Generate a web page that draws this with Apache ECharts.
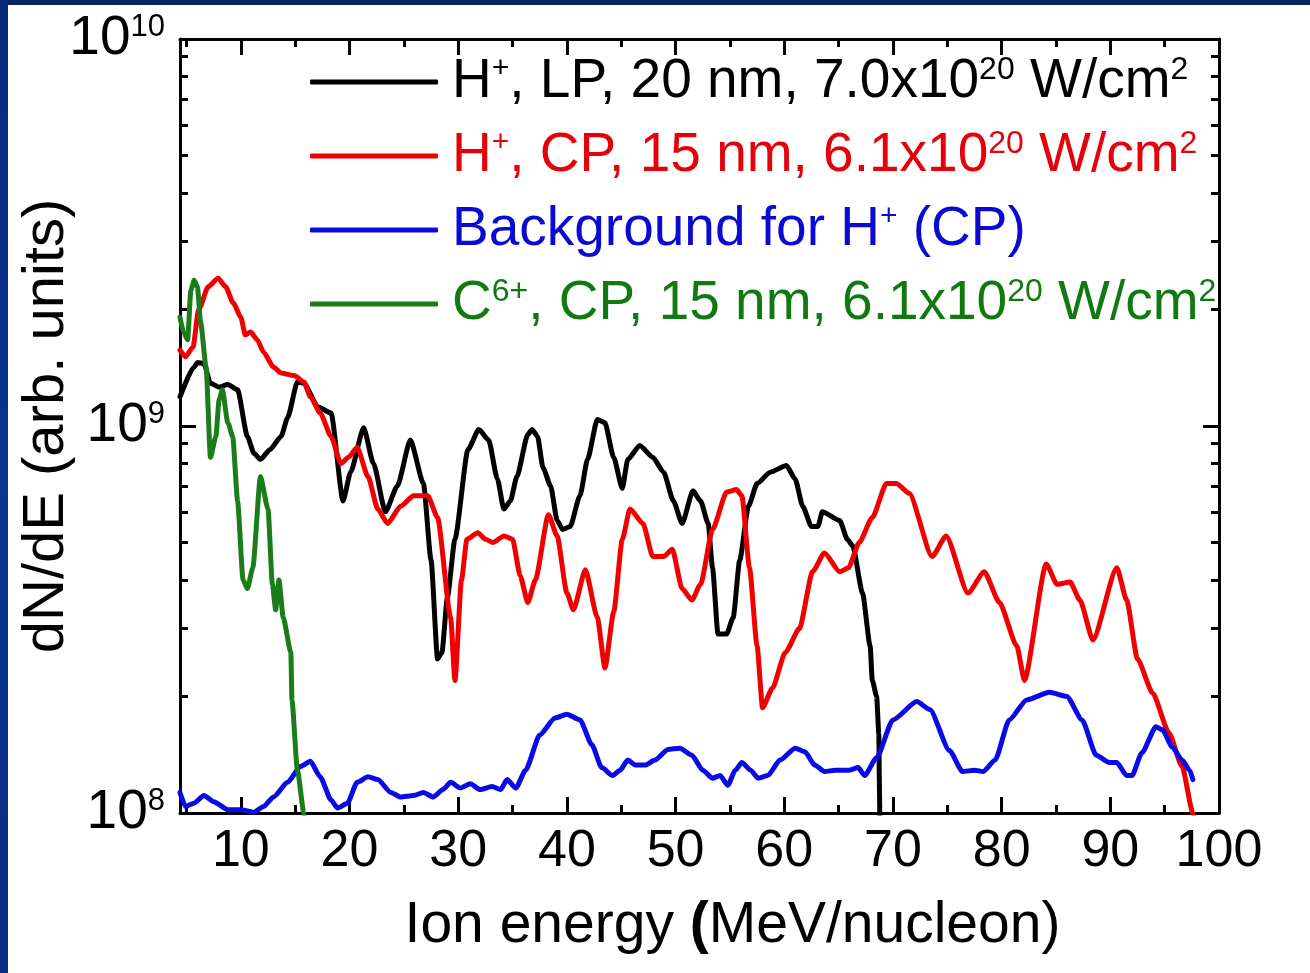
<!DOCTYPE html>
<html>
<head>
<meta charset="utf-8">
<script src="https://cdn.jsdelivr.net/npm/echarts@6/dist/echarts.min.js"></script>
<style>
html,body{margin:0;padding:0;background:#ffffff;}
#frameTop{position:absolute;left:0;top:0;width:1310px;height:5px;background:#032463;}
#frameLeft{position:absolute;left:0;top:0;width:8px;height:973px;background:linear-gradient(#06297a,#0b3592,#082c82);}
#chart{position:absolute;left:0;top:0;width:1310px;height:973px;}
</style>
</head>
<body>
<div id="frameTop"></div>
<div id="frameLeft"></div>
<div id="chart"></div>
<script>
// ---------------- data ----------------
// [energy (MeV/nucleon), dN/dE (arb. units)]
const hLP = [[4.4,1.19e9],[5.7,1.42e9],[6.0,1.46e9],[6.6,1.45e9],[7.2,1.29e9],[8.0,1.26e9],[8.8,1.28e9],[9.7,1.24e9],[10.6,9.4e8],[11.2,8.5e8],[11.8,8.2e8],[12.7,8.7e8],[13.7,9.4e8],[14.3,1.05e9],[15.2,1.30e9],[15.8,1.29e9],[17.1,1.12e9],[18.3,1.08e9],[19.4,6.4e8],[20.1,7.6e8],[21.3,9.9e8],[22.2,8.0e8],[23.3,6.0e8],[24.4,7.0e8],[25.6,9.2e8],[26.8,7.1e8],[27.5,4.5e8],[28.1,2.5e8],[28.5,2.6e8],[29.0,3.6e8],[29.7,5.1e8],[30.9,8.7e8],[31.9,9.8e8],[32.8,9.2e8],[33.6,7.3e8],[34.2,6.1e8],[34.8,6.4e8],[35.4,7.4e8],[36.4,9.5e8],[36.8,9.8e8],[37.3,9.4e8],[37.8,7.8e8],[38.5,7.0e8],[39.1,5.7e8],[39.6,5.4e8],[40.3,5.5e8],[41.2,6.6e8],[41.9,8.2e8],[42.8,1.04e9],[43.5,1.02e9],[44.3,8.3e8],[45.1,6.9e8],[45.6,8.2e8],[46.7,8.9e8],[47.9,8.3e8],[48.9,7.6e8],[49.8,6.4e8],[50.6,5.6e8],[51.6,6.8e8],[52.3,6.4e8],[53.0,5.6e8],[53.4,4.3e8],[53.9,2.9e8],[54.7,2.9e8],[55.3,3.2e8],[55.9,4.5e8],[56.7,6.2e8],[57.5,7.1e8],[58.7,7.6e8],[60.2,7.9e8],[61.0,7.3e8],[61.7,6.2e8],[62.5,5.5e8],[63.1,5.5e8],[63.5,6.0e8],[65.1,5.7e8],[65.8,5.1e8],[66.3,4.9e8],[67.2,3.7e8],[67.9,2.7e8],[68.1,2.2e8],[68.5,2.0e8],[68.7,1.6e8],[68.75,1.2e8],[68.8,9e7]];

const hCP = [[4.4,1.57e9],[4.9,1.51e9],[5.6,1.60e9],[6.1,1.99e9],[7.0,2.29e9],[7.9,2.41e9],[8.6,2.29e9],[9.3,2.08e9],[10.0,1.91e9],[10.4,1.72e9],[10.9,1.75e9],[11.5,1.67e9],[12.1,1.55e9],[13.0,1.42e9],[13.7,1.37e9],[14.9,1.35e9],[15.8,1.30e9],[16.4,1.19e9],[17.3,1.08e9],[18.3,9.4e8],[19.2,8.0e8],[19.9,8.3e8],[20.7,8.8e8],[21.7,7.4e8],[22.6,6.1e8],[23.5,5.6e8],[24.7,6.2e8],[25.9,6.6e8],[27.2,6.6e8],[28.1,5.8e8],[29.3,3.2e8],[29.7,2.2e8],[30.3,4.0e8],[30.8,5.1e8],[31.8,5.3e8],[32.5,5.1e8],[33.2,5.0e8],[34.2,5.2e8],[35.0,5.1e8],[35.7,4.1e8],[36.4,3.5e8],[37.1,4.0e8],[38.3,5.9e8],[39.1,5.2e8],[40.0,3.7e8],[40.6,3.35e8],[41.7,4.25e8],[42.8,3.2e8],[43.5,2.37e8],[44.3,3.3e8],[45.1,5.1e8],[45.8,6.1e8],[47.0,5.6e8],[47.9,4.6e8],[48.9,4.6e8],[49.7,4.8e8],[50.6,3.8e8],[51.5,3.55e8],[52.3,3.9e8],[53.4,5.4e8],[54.7,6.75e8],[55.6,6.85e8],[56.1,6.6e8],[56.8,4.3e8],[57.5,2.7e8],[58.0,1.87e8],[58.9,2.1e8],[60.1,2.6e8],[61.4,3.0e8],[62.6,4.2e8],[63.7,4.7e8],[65.1,4.2e8],[65.9,4.3e8],[66.9,5.0e8],[68.1,5.8e8],[69.4,7.1e8],[70.3,7.1e8],[71.5,6.7e8],[73.6,4.6e8],[74.9,5.2e8],[76.9,3.7e8],[78.4,4.2e8],[79.8,3.5e8],[81.4,2.7e8],[82.1,2.2e8],[84.1,4.4e8],[85.1,3.9e8],[86.3,3.95e8],[87.2,3.55e8],[88.4,2.8e8],[90.6,4.3e8],[91.5,3.55e8],[92.5,2.5e8],[93.9,2.04e8],[95.4,1.61e8],[96.6,1.32e8],[97.6,1.0e8],[97.8,9.5e7]];

const bgCP = [[4.4,1.13e8],[4.9,1.04e8],[5.7,1.06e8],[6.6,1.11e8],[7.5,1.07e8],[8.8,1.02e8],[10.0,1.02e8],[11.2,1.005e8],[12.1,1.04e8],[13.0,1.10e8],[14.3,1.20e8],[15.5,1.32e8],[16.4,1.36e8],[17.3,1.24e8],[18.3,1.08e8],[18.9,1.03e8],[19.8,1.06e8],[20.7,1.20e8],[21.7,1.24e8],[22.6,1.22e8],[23.8,1.13e8],[24.7,1.10e8],[25.9,1.11e8],[26.8,1.13e8],[27.7,1.10e8],[28.6,1.15e8],[29.3,1.20e8],[30.2,1.16e8],[31.1,1.19e8],[32.0,1.15e8],[33.1,1.17e8],[33.9,1.15e8],[34.5,1.22e8],[35.3,1.16e8],[36.2,1.29e8],[37.5,1.59e8],[38.9,1.76e8],[40.0,1.80e8],[41.2,1.74e8],[42.3,1.50e8],[43.2,1.31e8],[44.2,1.25e8],[44.9,1.29e8],[45.6,1.37e8],[46.3,1.33e8],[47.2,1.33e8],[48.1,1.37e8],[49.3,1.46e8],[50.4,1.47e8],[51.5,1.41e8],[52.5,1.29e8],[53.4,1.23e8],[54.1,1.25e8],[54.8,1.18e8],[55.5,1.29e8],[56.1,1.35e8],[56.9,1.29e8],[57.6,1.23e8],[58.5,1.25e8],[59.6,1.37e8],[61.0,1.47e8],[61.9,1.44e8],[62.8,1.33e8],[63.7,1.28e8],[64.7,1.29e8],[65.4,1.29e8],[66.0,1.29e8],[66.8,1.31e8],[67.4,1.25e8],[68.5,1.39e8],[70.0,1.74e8],[72.2,1.94e8],[73.4,1.85e8],[75.2,1.45e8],[76.4,1.28e8],[77.5,1.29e8],[78.3,1.28e8],[79.4,1.37e8],[80.7,1.74e8],[82.3,1.96e8],[84.4,2.05e8],[86.0,2.00e8],[87.4,1.74e8],[88.7,1.41e8],[89.9,1.35e8],[90.6,1.35e8],[91.5,1.25e8],[92.0,1.25e8],[92.9,1.43e8],[94.2,1.67e8],[94.8,1.64e8],[95.7,1.48e8],[96.6,1.37e8],[97.3,1.29e8],[97.6,1.22e8]];

const c6CP = [[4.4,1.91e9],[4.75,1.74e9],[5.1,1.67e9],[5.4,2.24e9],[5.7,2.38e9],[6.0,2.29e9],[6.3,1.85e9],[6.8,1.42e9],[7.2,8.3e8],[7.7,9.4e8],[8.0,1.17e9],[8.3,1.24e9],[8.8,1.02e9],[9.25,9.4e8],[9.7,6.4e8],[10.2,4.0e8],[10.6,3.8e8],[11.1,4.3e8],[11.8,7.4e8],[12.5,6.1e8],[12.9,3.9e8],[13.2,3.35e8],[13.5,4.0e8],[13.9,3.2e8],[14.6,2.6e8],[14.7,1.96e8],[15.2,1.29e8],[15.8,1.0e8],[15.9,9.5e7]];

const seriesNames = ['hLP', 'hCP', 'bgCP', 'c6CP'];
const legendLabels = [
  '{g| }{n|H}{p|+}{n|, LP, 20 nm, 7.0x10}{s|20}{n| W/cm}{s|2}',
  '{g| }{n|H}{p|+}{n|, CP, 15 nm, 6.1x10}{s|20}{n| W/cm}{s|2}',
  '{g| }{n|Background for H}{p|+}{n| (CP)}',
  '{g| }{n|C}{s|6+}{n|, CP, 15 nm, 6.1x10}{s|20}{n| W/cm}{s|2}'
];
const xMajorTicks = [10, 20, 30, 40, 50, 60, 70, 80, 90, 100];
const xMinorTicks = [5, 15, 25, 35, 45, 55, 65, 75, 85, 95];
const yMajorTicks = [1e8, 1e9, 1e10];
const yMinorTicks = [2e8, 3e8, 4e8, 5e8, 6e8, 7e8, 8e8, 9e8, 2e9, 3e9, 4e9, 5e9, 6e9, 7e9, 8e9, 9e9];
const xTitle = 'Ion energy {bd|(}MeV/nucleon)';
const yTitle = 'dN/dE (arb. units)';

// ---------------- styling ----------------
const FONT = '"Liberation Sans", Arial, Helvetica, sans-serif';
const lineColors = ['#000000', '#f00000', '#0a0ae6', '#1a7d1a'];
const textColors = ['#000000', '#e6000a', '#0a0ad2', '#107a10'];
const X_MIN = 4.4, X_MAX = 100, Y_MIN = 1e8, Y_MAX = 1e10;

const axisLineStyle = { color: '#000', width: 3 };

function xAxis(position, ticks, len, withLabels, withLine) {
  const a = {
    type: 'value', position: position, min: X_MIN, max: X_MAX,
    axisLine: { show: withLine, onZero: false, lineStyle: axisLineStyle },
    axisTick: { show: true, inside: true, length: len, lineStyle: { color: '#000', width: 3 }, customValues: ticks },
    axisLabel: { show: withLabels, customValues: ticks, margin: 13, fontSize: 52, color: '#000', fontFamily: FONT },
    splitLine: { show: false }, minorTick: { show: false }
  };
  if (withLabels) {
    a.name = xTitle;
    a.nameLocation = 'middle';
    a.nameGap = 85;
    a.nameMoveOverlap = false;
    a.nameTextStyle = {
      fontSize: 57, color: '#000', fontFamily: FONT, padding: [0, 0, 0, 66],
      rich: { bd: { fontSize: 57, fontWeight: 'bold', color: '#000', fontFamily: FONT } }
    };
  }
  return a;
}

function yAxis(position, ticks, len, withLabels, withLine) {
  const a = {
    type: 'log', logBase: 10, position: position, min: Y_MIN, max: Y_MAX,
    axisLine: { show: withLine, onZero: false, lineStyle: axisLineStyle },
    axisTick: { show: true, inside: true, length: len, lineStyle: { color: '#000', width: 3 }, customValues: ticks },
    axisLabel: {
      show: withLabels, customValues: ticks, margin: 15,
      formatter: function (v) { return '{b|10}{s|' + Math.round(Math.log10(v)) + '}'; },
      rich: {
        b: { fontSize: 55, lineHeight: 55, color: '#000', fontFamily: FONT },
        s: { fontSize: 31, lineHeight: 16, verticalAlign: 'top', color: '#000', fontFamily: FONT }
      }
    },
    splitLine: { show: false }, minorTick: { show: false }
  };
  if (withLabels) {
    a.name = yTitle;
    a.nameLocation = 'middle';
    a.nameGap = 104;
    a.nameRotate = 90;
    a.nameMoveOverlap = false;
    a.nameTextStyle = { fontSize: 58, color: '#000', fontFamily: FONT };
  }
  return a;
}

const chart = echarts.init(document.getElementById('chart'), null, { renderer: 'canvas' });
const data = [hLP, hCP, bgCP, c6CP];

const option = {
  animation: false,
  backgroundColor: 'transparent',
  grid: { left: 180, right: 91, top: 39, bottom: 160, containLabel: false, outerBoundsMode: 'none' },
  xAxis: [
    xAxis('bottom', xMajorTicks, 16, true, true),
    xAxis('bottom', xMinorTicks, 8, false, false),
    xAxis('top', xMajorTicks, 16, false, true),
    xAxis('top', xMinorTicks, 8, false, false)
  ],
  yAxis: [
    yAxis('left', yMajorTicks, 16, true, true),
    yAxis('left', yMinorTicks, 8, false, false),
    yAxis('right', yMajorTicks, 16, false, true),
    yAxis('right', yMinorTicks, 8, false, false)
  ],
  legend: {
    show: true, orient: 'vertical', left: 310, top: 54, padding: 0,
    itemWidth: 128, itemHeight: 5, itemGap: 18, icon: 'roundRect',
    selectedMode: false,
    data: seriesNames.map(function (n, i) { return { name: n, textStyle: { color: textColors[i] } }; }),
    formatter: function (name) { return legendLabels[seriesNames.indexOf(name)]; },
    textStyle: {
      fontSize: 55, lineHeight: 56, fontFamily: FONT,
      rich: {
        g: { width: 9, fontSize: 55, lineHeight: 56, fontFamily: FONT },
        n: { fontSize: 55, lineHeight: 56, fontFamily: FONT },
        s: { fontSize: 32, lineHeight: 17, verticalAlign: 'top', fontFamily: FONT },
        p: { fontSize: 30, lineHeight: 28, verticalAlign: 'top', fontFamily: FONT }
      }
    }
  },
  series: seriesNames.map(function (n, i) {
    return {
      name: n, type: 'line', xAxisIndex: 0, yAxisIndex: 0,
      data: data[i], showSymbol: false, symbol: 'none', clip: true,
      smooth: 0.2, smoothMonotone: 'x',
      lineStyle: { color: lineColors[i], width: 5, join: 'round', cap: 'round' },
      itemStyle: { color: lineColors[i] },
      emphasis: { disabled: true }
    };
  })
};
chart.setOption(option);
</script>
</body>
</html>
